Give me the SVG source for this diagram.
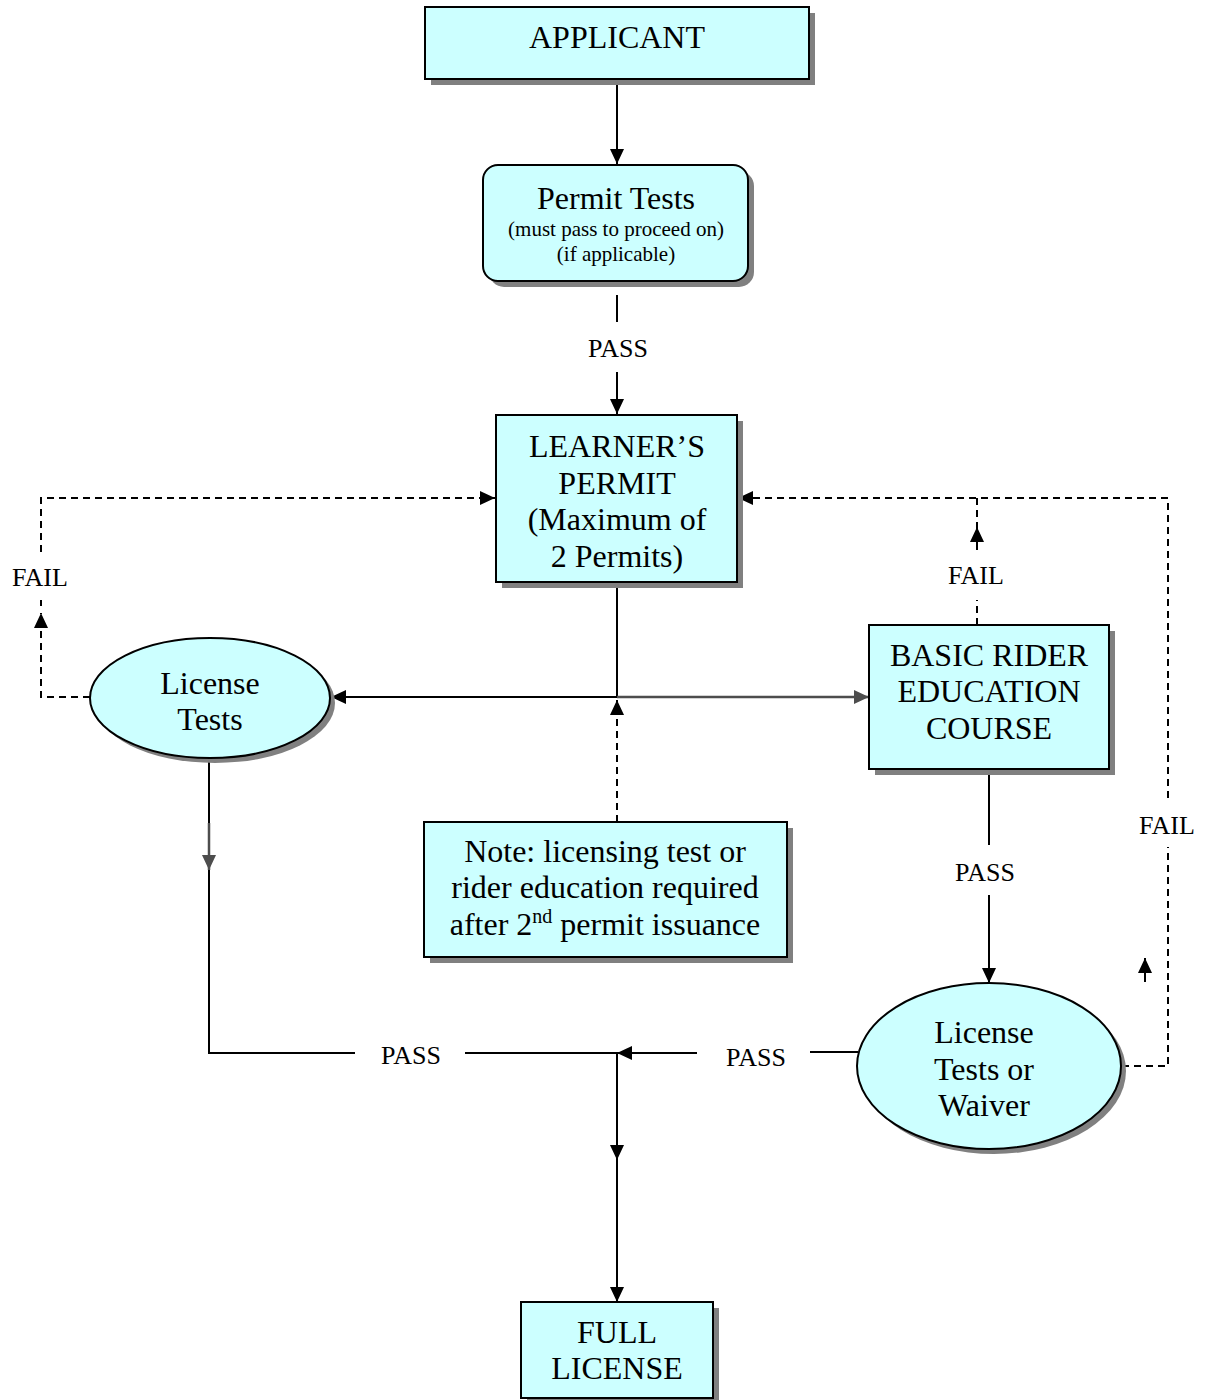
<svg xmlns="http://www.w3.org/2000/svg" width="1206" height="1400" viewBox="0 0 1206 1400">
<style>
.box{fill:#CCFFFF;stroke:#000;stroke-width:2}
.sh{fill:#808080}
.t{font-family:"Liberation Serif","Times New Roman",serif;font-size:32px;fill:#000;text-anchor:middle}
.s{font-family:"Liberation Serif","Times New Roman",serif;font-size:21px;fill:#000;text-anchor:middle}
.l{font-family:"Liberation Serif","Times New Roman",serif;font-size:26px;fill:#000;text-anchor:middle}
.c{fill:none;stroke:#000;stroke-width:2}
.g{fill:none;stroke:#4d4d4d;stroke-width:2.5}
.d{fill:none;stroke:#000;stroke-width:2;stroke-dasharray:7 5}
</style>
<defs>
<marker id="ah" viewBox="0 0 15 14" refX="15" refY="7" markerWidth="15" markerHeight="14" markerUnits="userSpaceOnUse" orient="auto">
<path d="M0,0 L15,7 L0,14 z" fill="#000"/>
</marker>
<marker id="ahg" viewBox="0 0 15 14" refX="15" refY="7" markerWidth="15" markerHeight="14" markerUnits="userSpaceOnUse" orient="auto">
<path d="M0,0 L15,7 L0,14 z" fill="#4d4d4d"/>
</marker>
</defs>

<g id="connectors">
<!-- applicant to permit tests -->
<path class="c" d="M617,79 V164" marker-end="url(#ah)"/>
<!-- permit tests pass -->
<path class="c" d="M617,295 V322"/>
<path class="c" d="M617,372 V414" marker-end="url(#ah)"/>
<!-- learner down to junction -->
<path class="c" d="M617,582 V697"/>
<path class="c" d="M617,697 H331" marker-end="url(#ah)"/>
<path class="g" d="M617,697 H869" marker-end="url(#ahg)"/>
<!-- note to junction -->
<path class="d" d="M617,822 V700" marker-end="url(#ah)"/>
<!-- left fail loop -->
<path class="d" d="M90,697 H41 V613" marker-end="url(#ah)"/>
<path class="c" d="M41,606 V600"/>
<path class="d" d="M41,552 V498 H495" marker-end="url(#ah)"/>
<!-- BRE fail -->
<path class="d" d="M977,625 V600"/>
<path class="c" d="M977,550 V542"/>
<path class="d" d="M977,542 V527" marker-end="url(#ah)"/>
<path class="d" d="M977,498 V527"/>
<!-- right fail loop -->
<path class="d" d="M1122,1066 H1168 V847"/>
<path class="d" d="M1168,798 V498 H738" marker-end="url(#ah)"/>
<path class="c" d="M1145,982 V958" marker-end="url(#ah)"/>
<!-- BRE pass -->
<path class="c" d="M989,769 V845"/>
<path class="c" d="M989,895 V983" marker-end="url(#ah)"/>
<!-- license tests down -->
<path class="c" d="M209,758 V823"/>
<path class="g" d="M209,823 V870" marker-end="url(#ahg)"/>
<path class="c" d="M209,870 V1053 H355"/>
<path class="c" d="M465,1053 H617"/>
<path class="c" d="M697,1053 H617" marker-end="url(#ah)"/>
<path class="c" d="M810,1052 H858"/>
<!-- to full license -->
<path class="c" d="M617,1053 V1160" marker-end="url(#ah)"/>
<path class="c" d="M617,1160 V1302" marker-end="url(#ah)"/>
<!-- labels -->
<text class="l" x="618" y="357">PASS</text>
<text class="l" x="40" y="586">FAIL</text>
<text class="l" x="976" y="584">FAIL</text>
<text class="l" x="1167" y="834">FAIL</text>
<text class="l" x="985" y="881">PASS</text>
<text class="l" x="411" y="1064">PASS</text>
<text class="l" x="756" y="1066">PASS</text>
</g>

<g id="applicant">
<rect class="sh" x="431" y="13" width="384" height="72"/>
<rect class="box" x="425" y="7" width="384" height="72"/>
<text class="t" x="617" y="48">APPLICANT</text>
</g>

<g id="permit-tests">
<rect class="sh" x="489" y="171" width="265" height="116" rx="15"/>
<rect class="box" x="483" y="165" width="265" height="116" rx="15"/>
<text class="t" x="616" y="209">Permit Tests</text>
<text class="s" x="616" y="236">(must pass to proceed on)</text>
<text class="s" x="616" y="261">(if applicable)</text>
</g>

<g id="learners-permit">
<rect class="sh" x="502" y="421" width="241" height="167"/>
<rect class="box" x="496" y="415" width="241" height="167"/>
<text class="t" x="617" y="457">LEARNER’S</text>
<text class="t" x="617" y="494">PERMIT</text>
<text class="t" x="617" y="530">(Maximum of</text>
<text class="t" x="617" y="567">2 Permits)</text>
</g>

<g id="license-tests">
<ellipse class="sh" cx="215" cy="703" rx="120" ry="60"/>
<ellipse class="box" cx="210" cy="698" rx="120" ry="60"/>
<text class="t" x="210" y="694">License</text>
<text class="t" x="210" y="730">Tests</text>
</g>

<g id="basic-rider">
<rect class="sh" x="875" y="631" width="240" height="144"/>
<rect class="box" x="869" y="625" width="240" height="144"/>
<text class="t" x="989" y="666">BASIC RIDER</text>
<text class="t" x="989" y="702">EDUCATION</text>
<text class="t" x="989" y="739">COURSE</text>
</g>

<g id="note">
<rect class="sh" x="430" y="828" width="363" height="135"/>
<rect class="box" x="424" y="822" width="363" height="135"/>
<text class="t" x="605" y="862">Note: licensing test or</text>
<text class="t" x="605" y="898">rider education required</text>
<text class="t" x="605" y="935">after 2<tspan font-size="20" dy="-12">nd</tspan><tspan dy="12"> permit issuance</tspan></text>
</g>

<g id="license-tests-waiver">
<ellipse class="sh" cx="994" cy="1071" rx="132" ry="83"/>
<ellipse class="box" cx="989" cy="1066" rx="132" ry="83"/>
<text class="t" x="984" y="1043">License</text>
<text class="t" x="984" y="1080">Tests or</text>
<text class="t" x="984" y="1116">Waiver</text>
</g>

<g id="full-license">
<rect class="sh" x="527" y="1308" width="192" height="96"/>
<rect class="box" x="521" y="1302" width="192" height="96"/>
<text class="t" x="617" y="1343">FULL</text>
<text class="t" x="617" y="1379">LICENSE</text>
</g>
</svg>
